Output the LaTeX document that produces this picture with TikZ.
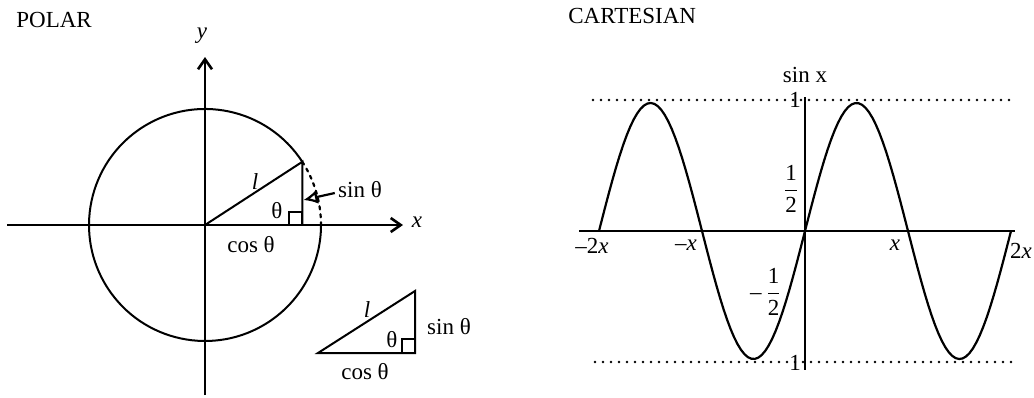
\documentclass[tikz,border=0pt]{standalone}
\usepackage{fontspec}
\setmainfont{Liberation Serif}
\usepackage{amsmath}
\usetikzlibrary{arrows.meta}
\begin{document}
\begin{tikzpicture}[x=0.5pt,y=-0.5pt,
  lbl/.style={inner sep=0pt,font=\fontsize{11.5}{13}\selectfont},
  axis/.style={line width=1.2pt,-{Straight Barb[length=5pt,width=7pt,line width=1.3pt]}},
  dots/.style={line width=1.4pt,line cap=round,dash pattern=on 0pt off 4pt}]
\useasboundingbox (0,0) rectangle (1034,397);
\node[lbl,anchor=west] (polar) at (16,20) {POLAR};
\node[lbl,anchor=west] (cart) at (568,16) {CARTESIAN};
\coordinate (O) at (205,225);
\coordinate (P) at (302.3,161.8);
\coordinate (Q) at (302.3,225);
\draw[axis] (7,225) -- (403,225) coordinate (xend);
\draw[axis] (205,395) -- (205,57) coordinate (yend);
\node[lbl] (xlab) at (417,222) {\textit{x}};
\node[lbl] (ylab) at (202,36) {\textit{y}};
\draw[line width=1pt] (P) arc[start angle=-33,end angle=-360,radius=116];
\draw[line width=1.1pt,line cap=round,dash pattern=on 1.6pt off 2.4pt] (P) arc[start angle=-33,end angle=0,radius=116];
\draw[line width=1pt] (O) -- (P) -- (Q);
\draw[line width=0.9pt] (Q) rectangle ++(-13,-13);
\node[lbl] (l1) at (255,182) {\textit{l}};
\node[lbl] (t1) at (277,211) {θ};
\node[lbl] (s1) at (360,190) {sin θ};
\node[lbl] (c1) at (251,245) {cos θ};
\draw[line width=1.1pt,-{Latex[open,length=7pt,width=7pt]}] (s1.west) ++(-3,3) -- (303.5,200);
\coordinate (A) at (318,353);
\coordinate (B) at (415,353);
\coordinate (C) at (415,291);
\draw[line width=1pt] (A) -- (B) -- (C) -- cycle;
\draw[line width=0.9pt] (B) rectangle ++(-13,-14);
\node[lbl] (l2) at (367,310) {\textit{l}};
\node[lbl] (t2) at (392,340) {θ};
\node[lbl] (s2) at (449,327) {sin θ};
\node[lbl] (c2) at (365,372) {cos θ};
\draw[dots] (593,100) -- (1015,100);
\draw[dots] (595,362) -- (1017,362);
\draw[line width=1.2pt] (579,231) -- (1015,231);
\draw[line width=1.2pt] (805,97) -- (805,370);
\draw[line width=1.1pt] plot[domain=599:1011,samples=120] (\x,{231-128*sin((\x-805)*1.74757)});
\node[lbl] (sinx) at (805,75) {sin x};
\node[lbl] (one) at (795,100) {1};
\node[lbl] (mone) at (795,363) {1};
\node[lbl] (half) at (791,189) {$\dfrac{\textrm{1}}{\textrm{2}}$};
\node[lbl] (mhalf) at (766,292) {–\,$\dfrac{\textrm{1}}{\textrm{2}}$};
\node[lbl] (m2x) at (592,246) {–2\textit{x}};
\node[lbl] (mx) at (686,245) {–\textit{x}};
\node[lbl] (px) at (895,245) {\textit{x}};
\node[lbl] (p2x) at (1021,251) {2\textit{x}};
\end{tikzpicture}
\end{document}
